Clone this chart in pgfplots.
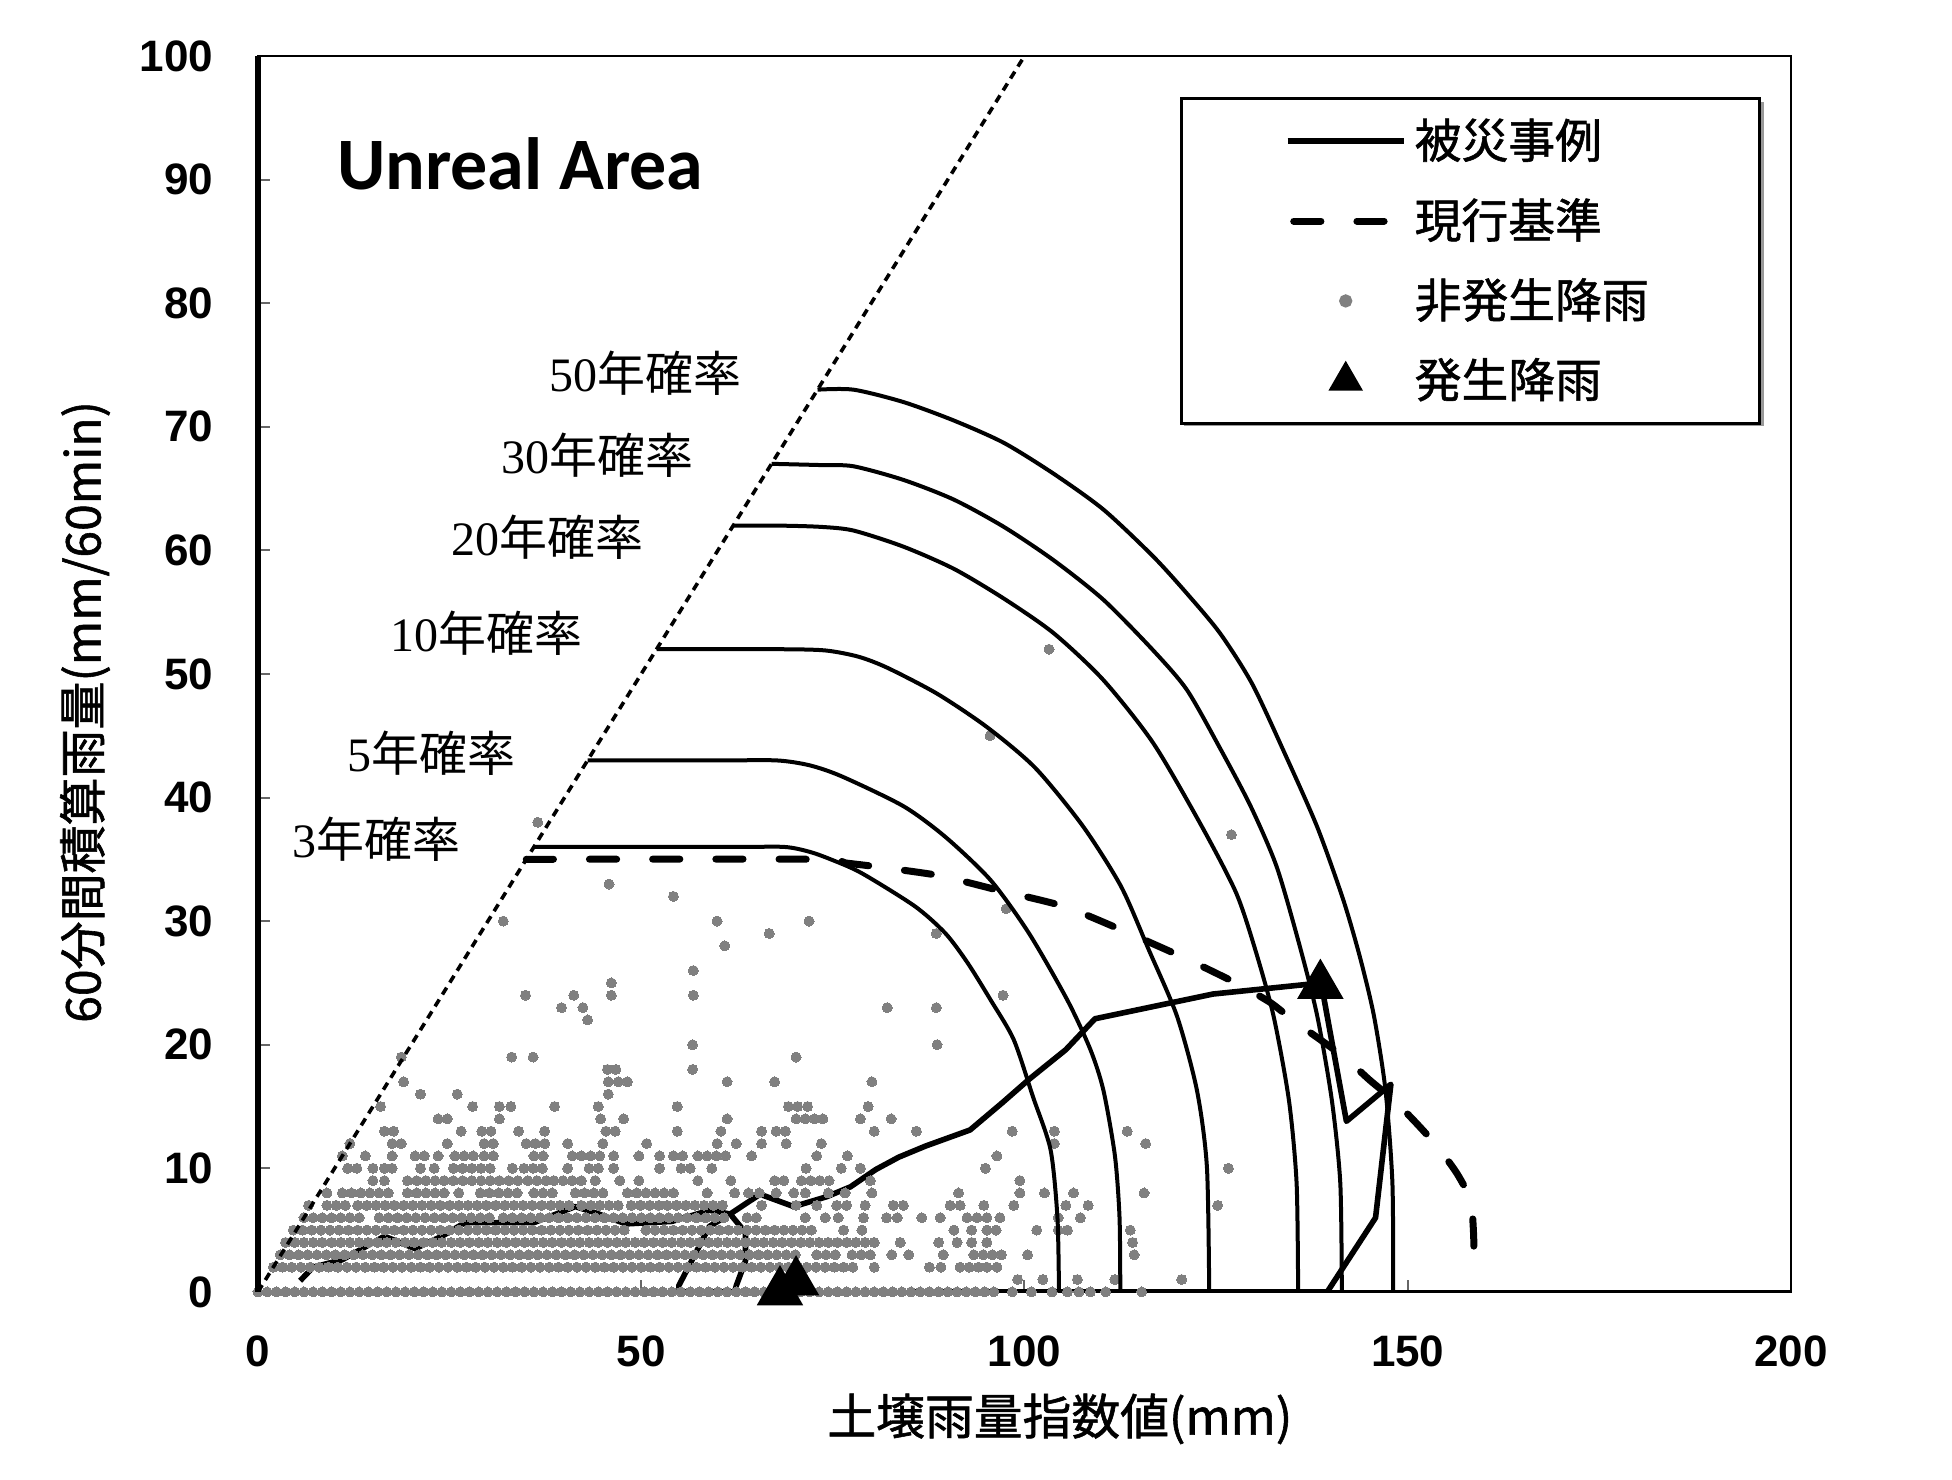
\documentclass[border=0pt]{standalone}
\usepackage{pgfplots}
\pgfplotsset{compat=1.18}
\usepackage{fontspec}
\newfontfamily\jp{Noto Sans CJK JP}
\newfontfamily\jpb{Noto Sans CJK JP}[FakeBold=1.2]
\newfontfamily\tickf{Liberation Sans}
\newfontfamily\ser{Liberation Serif}
\newfontfamily\carl{Carlito}
\definecolor{dotgray}{RGB}{128,128,128}
\newcommand{\tk}[1]{{\tickf\bfseries\fontsize{11}{11}\selectfont #1}}
\newcommand{\yr}[1]{{\fontsize{12}{12}\selectfont{\ser #1}{\jp 年確率}}}
\pgfplotsset{
  markleg/.style={legend image code/.code={\path (0pt,0pt) (29pt,0pt); \draw[##1] plot coordinates {(14.5pt,0pt)};}},
  solidleg/.style={legend image code/.code={\draw[line width=1.5pt] (0pt,0pt) -- (29pt,0pt);}},
  dashleg/.style={legend image code/.code={\path (0pt,0pt) (29pt,0pt); \draw[line width=1.75pt, line cap=round, dash pattern=on 6.8pt off 9pt] (1.5pt,0pt) -- (27pt,0pt);}},
  dots/.style={forget plot, only marks, mark=*, mark size=1.25pt, color=dotgray, mark options={line width=0pt}},
  cont/.style={forget plot, black, line width=1pt, smooth, tension=0.45},
}
\begin{document}
\begin{tikzpicture}
\useasboundingbox (-64.5pt,-47pt) rectangle (423.55pt,323pt);
% legend shadow
\fill[black!40] (231.6pt,216.5pt) rectangle (376.6pt,297.6pt);
\begin{axis}[
  at={(0pt,0pt)}, anchor=south west,
  width=383.3pt, height=309pt, scale only axis,
  xmin=0, xmax=200, ymin=0, ymax=100,
  xtick={0,50,100,150,200},
  xticklabels={\tk{0},\tk{50},\tk{100},\tk{150},\tk{200}},
  ytick={0,10,20,30,40,50,60,70,80,90,100},
  yticklabels={\tk{0},\tk{10},\tk{20},\tk{30},\tk{40},\tk{50},\tk{60},\tk{70},\tk{80},\tk{90},\tk{100}},
  tick align=inside, tick pos=left, major tick length=3pt,
  tick style={black!60, line width=0.5pt},
  xticklabel style={yshift=-7.4pt},
  yticklabel style={xshift=-7.7pt},
  axis line style={line width=0.7pt},
  clip mode=individual,
  legend cell align=left,
  legend style={at={(0.6014,0.9668)}, anchor=north west,
    draw=black, line width=0.8pt, fill=white,
    inner xsep=25.8pt, inner ysep=3pt, row sep=4.6pt,
    font=\jpb\fontsize{11.7}{14}\selectfont},
]
% legend entries
\addlegendimage{solidleg}
\addlegendentry{被災事例}
\addlegendimage{dashleg}
\addlegendentry{現行基準}
\addlegendimage{only marks, mark=*, mark size=1.25pt, color=dotgray, markleg}
\addlegendentry{非発生降雨}
\addlegendimage{only marks, mark=triangle*, mark size=4.2pt, color=black, markleg}
\addlegendentry{発生降雨}

% damage case trajectory
\addplot[forget plot, black, line width=1.4pt, line join=round] coordinates {
(5.5,0.9)(7.2,2.0)(11,2.6)(16.5,4.5)(20.5,3.5)(24,4.5)(27,5.6)(36,5.6)(41.4,6.9)(44,6.4)(48,5.5)(54,5.7)(58.9,6.6)(61.6,6.3)(63.6,4.8)(63.6,2.5)(62.4,0.5)(62.2,0)(55,0)(54.9,0.5)(56.9,2.9)(58.9,5.3)(61.6,6.3)(65.5,7.9)(69.9,6.9)(74.2,7.7)(77.3,8.5)(80.6,9.9)(83.6,10.9)(87.1,11.8)(92.9,13.1)(97.1,15.3)(100.6,17.2)(105.4,19.6)(109.2,22.1)(124.6,24.1)(137.2,24.9)(138.7,25)(142,13.8)(147.8,16.8)(145.8,6.0)(139.5,0)(85,0)};

% non-occurrence rainfall dots
\addplot[dots] coordinates {(0,0)(1.2,0)(2.4,0)(3.6,0)(4.8,0)(6,0)(7.2,0)(8.4,0)(9.6,0)(10.8,0)(12,0)(13.2,0)(14.4,0)(15.6,0)(16.8,0)(18,0)(19.2,0)(20.4,0)(21.6,0)(22.8,0)(24,0)(25.2,0)(26.4,0)(27.6,0)(28.8,0)(30,0)(31.2,0)(32.4,0)(33.6,0)(34.8,0)(36,0)(37.2,0)(38.4,0)(39.6,0)(40.8,0)(42,0)(43.2,0)(44.4,0)(45.6,0)(46.8,0)(48,0)(49.2,0)(50.4,0)(51.6,0)(52.8,0)(54,0)(55.2,0)(56.4,0)(57.6,0)(58.8,0)(60,0)(61.2,0)(62.4,0)(63.6,0)(64.8,0)(66,0)(67.2,0)(68.4,0)(69.6,0)(70.8,0)(72,0)(73.2,0)(74.4,0)(75.6,0)(76.8,0)(78,0)(79.2,0)(80.4,0)(81.6,0)(82.8,0)(84,0)(85.2,0)(86.4,0)(87.6,0)(88.8,0)(90,0)(91.2,0)(92.4,0)(93.6,0)(94.8,0)(96,0)(98.4,0)(100.9,0)(103.6,0)(105.6,0)(107.1,0)(108.6,0)(110.6,0)(115.3,0)};
\addplot[dots] coordinates {(99.1,1)(102.4,1)(106.9,1)(111.8,1)(120.5,1)};
\addplot[dots] coordinates {(2,2)(3.2,2)(4.4,2)(5.6,2)(6.8,2)(8,2)(9.2,2)(10.4,2)(11.6,2)(12.8,2)(14,2)(15.2,2)(16.4,2)(17.6,2)(18.8,2)(20,2)(21.2,2)(22.4,2)(23.6,2)(24.8,2)(26,2)(27.2,2)(28.4,2)(29.6,2)(30.8,2)(32,2)(33.2,2)(34.4,2)(35.6,2)(36.8,2)(38,2)(39.2,2)(40.4,2)(41.6,2)(42.8,2)(44,2)(45.2,2)(46.4,2)(47.6,2)(48.8,2)(50,2)(51.2,2)(52.4,2)(53.6,2)(54.8,2)(56,2)(57.2,2)(58.4,2)(59.6,2)(60.8,2)(62,2)(63.2,2)(64.4,2)(65.6,2)(66.8,2)(68,2)(69.2,2)(70.4,2)(71.6,2)(72.8,2)(74,2)(75.2,2)(76.4,2)(77.6,2)(80.4,2)(87.6,2)(89.1,2)(91.6,2)(92.8,2)(94,2)(95.1,2)(96.4,2)};
\addplot[dots] coordinates {(2.9,3)(4.1,3)(5.3,3)(6.5,3)(7.7,3)(8.9,3)(10.1,3)(11.3,3)(12.5,3)(13.7,3)(14.9,3)(16.1,3)(17.3,3)(18.5,3)(19.7,3)(20.9,3)(22.1,3)(23.3,3)(24.5,3)(25.7,3)(26.9,3)(28.1,3)(29.3,3)(30.5,3)(31.7,3)(32.9,3)(34.1,3)(35.3,3)(36.5,3)(37.7,3)(38.9,3)(40.1,3)(41.3,3)(42.5,3)(43.7,3)(44.9,3)(46.1,3)(47.3,3)(48.5,3)(49.7,3)(50.9,3)(52.1,3)(53.3,3)(54.5,3)(55.7,3)(56.9,3)(58.1,3)(59.3,3)(60.5,3)(61.7,3)(62.9,3)(64.1,3)(65.3,3)(66.5,3)(67.7,3)(68.9,3)(70.1,3)(72.9,3)(74.1,3)(75.3,3)(77.5,3)(78.7,3)(79.9,3)(82.7,3)(84.9,3)(89.4,3)(93.4,3)(94.6,3)(95.8,3)(97,3)(100.4,3)(114.3,3)};
\addplot[dots] coordinates {(3.6,4)(4.8,4)(6,4)(7.2,4)(8.4,4)(9.6,4)(10.8,4)(12,4)(13.2,4)(14.4,4)(15.6,4)(16.8,4)(18,4)(19.2,4)(20.4,4)(21.6,4)(22.8,4)(24,4)(25.2,4)(26.4,4)(27.6,4)(28.8,4)(30,4)(31.2,4)(32.4,4)(33.6,4)(34.8,4)(36,4)(37.2,4)(38.4,4)(39.6,4)(40.8,4)(42,4)(43.2,4)(44.4,4)(45.6,4)(46.8,4)(48,4)(49.2,4)(50.4,4)(51.6,4)(52.8,4)(54,4)(55.2,4)(56.4,4)(57.6,4)(58.8,4)(60,4)(61.2,4)(62.4,4)(63.6,4)(64.8,4)(66,4)(67.2,4)(68.4,4)(69.6,4)(70.8,4)(72,4)(73.2,4)(74.4,4)(75.6,4)(76.8,4)(78,4)(79.2,4)(80.4,4)(83.8,4)(88.8,4)(91.2,4)(93.1,4)(95.1,4)(114.1,4)};
\addplot[dots] coordinates {(4.6,5)(5.8,5)(7,5)(8.2,5)(9.4,5)(10.6,5)(11.8,5)(13,5)(14.2,5)(15.4,5)(16.6,5)(17.8,5)(19,5)(20.2,5)(21.4,5)(22.6,5)(23.8,5)(25,5)(26.2,5)(27.4,5)(28.6,5)(29.8,5)(31,5)(32.2,5)(33.4,5)(34.6,5)(35.8,5)(37,5)(38.2,5)(39.4,5)(40.6,5)(41.8,5)(43,5)(44.2,5)(45.4,5)(46.6,5)(47.8,5)(50.6,5)(51.8,5)(53,5)(54.2,5)(55.4,5)(56.6,5)(57.8,5)(59,5)(60.2,5)(61.4,5)(62.6,5)(63.8,5)(65,5)(66.2,5)(67.4,5)(68.6,5)(69.8,5)(71,5)(72.2,5)(76.4,5)(78.8,5)(90.8,5)(93.1,5)(95.1,5)(96.3,5)(101.6,5)(104.4,5)(105.6,5)(113.8,5)};
\addplot[dots] coordinates {(6,6)(7.2,6)(8.4,6)(9.6,6)(10.8,6)(12,6)(13.2,6)(15.8,6)(17,6)(18.2,6)(19.4,6)(20.6,6)(21.8,6)(23,6)(24.2,6)(25.4,6)(26.6,6)(27.8,6)(29,6)(30.2,6)(32,6)(33.2,6)(34.4,6)(35.6,6)(36.8,6)(38,6)(39.2,6)(40.4,6)(41.6,6)(42.8,6)(44,6)(45.2,6)(46.4,6)(47.6,6)(48.8,6)(50,6)(51.2,6)(52.4,6)(53.6,6)(54.8,6)(56,6)(57.2,6)(58.4,6)(59.6,6)(60.8,6)(63.8,6)(65,6)(71.4,6)(74,6)(75.7,6)(79,6)(82,6)(83.4,6)(86.6,6)(89,6)(92.5,6)(93.8,6)(95.1,6)(96.8,6)(104.4,6)(107.3,6)};
\addplot[dots] coordinates {(6.6,7)(9,7)(10.2,7)(11.4,7)(13,7)(14.2,7)(15.4,7)(16.6,7)(17.8,7)(19,7)(20.2,7)(21.4,7)(22.6,7)(23.8,7)(25,7)(26.2,7)(27.4,7)(28.6,7)(29.8,7)(31,7)(32.2,7)(33.4,7)(34.6,7)(35.8,7)(37,7)(38.2,7)(39.4,7)(40.6,7)(42.2,7)(43.4,7)(44.6,7)(45.8,7)(47,7)(48.7,7)(49.9,7)(51.1,7)(52.3,7)(53.4,7)(54.6,7)(55.8,7)(57,7)(58.2,7)(59.4,7)(60.6,7)(65.7,7)(70.2,7)(72.9,7)(75.5,7)(76.8,7)(79.2,7)(82.9,7)(84.2,7)(90.3,7)(91.6,7)(94.7,7)(98.6,7)(105.4,7)(108.3,7)(125.2,7)};
\addplot[dots] coordinates {(9,8)(11,8)(12.2,8)(13.4,8)(14.6,8)(15.8,8)(17,8)(19.5,8)(20.7,8)(21.9,8)(23.1,8)(24.3,8)(26.2,8)(29,8)(30.2,8)(31.4,8)(32.6,8)(33.8,8)(36,8)(37.2,8)(38.4,8)(41.4,8)(42.6,8)(43.8,8)(45,8)(48.2,8)(49.4,8)(50.6,8)(51.8,8)(53,8)(54.2,8)(58.6,8)(62.2,8)(64,8)(65.4,8)(67.6,8)(69.9,8)(71.4,8)(74.4,8)(76.6,8)(80.1,8)(91.4,8)(99.4,8)(102.6,8)(106.4,8)(115.6,8)};
\addplot[dots] coordinates {(15,9)(16.5,9)(19.5,9)(20.7,9)(21.9,9)(23.1,9)(24.3,9)(25.5,9)(26.7,9)(27.9,9)(29.1,9)(30.3,9)(31.5,9)(32.7,9)(33.9,9)(35.2,9)(36.4,9)(37.6,9)(38.6,9)(39.8,9)(41,9)(42.2,9)(44,9)(47.2,9)(49.7,9)(57.4,9)(61.7,9)(67.4,9)(68.6,9)(70.9,9)(72.1,9)(73.3,9)(74.5,9)(79.9,9)(99.4,9)};
\addplot[dots] coordinates {(11.7,10)(12.9,10)(15,10)(16.5,10)(17.5,10)(21.2,10)(23,10)(25.5,10)(26.7,10)(27.9,10)(29.1,10)(30.3,10)(33.2,10)(34.7,10)(35.9,10)(37.1,10)(40.4,10)(43.2,10)(44.4,10)(46.4,10)(52.4,10)(55.2,10)(56.4,10)(59.2,10)(71.5,10)(76.1,10)(78.6,10)(94.9,10)(126.6,10)};
\addplot[dots] coordinates {(11,11)(14,11)(17.5,11)(20.5,11)(21.7,11)(23.5,11)(25.7,11)(26.9,11)(28.1,11)(29.5,11)(30.7,11)(36,11)(37.2,11)(41,11)(42.2,11)(43.4,11)(44.6,11)(46.4,11)(49.7,11)(52.4,11)(54.2,11)(55.4,11)(57.4,11)(58.6,11)(59.8,11)(61,11)(64.4,11)(72.9,11)(76.9,11)(96.4,11)};
\addplot[dots] coordinates {(12,12)(17.5,12)(18.7,12)(24.7,12)(29.5,12)(30.7,12)(35,12)(36.2,12)(37.4,12)(40.4,12)(45,12)(50.7,12)(59.9,12)(62.4,12)(65.7,12)(68.9,12)(73.5,12)(103.9,12)(115.8,12)};
\addplot[dots] coordinates {(16.5,13)(17.7,13)(26.5,13)(29.2,13)(30.4,13)(34,13)(37.4,13)(45.4,13)(46.6,13)(54.7,13)(60.4,13)(65.7,13)(67.6,13)(68.8,13)(80.4,13)(85.9,13)(98.4,13)(103.9,13)(113.4,13)};
\addplot[dots] coordinates {(23.5,14)(24.7,14)(31.5,14)(44.7,14)(47.7,14)(61.2,14)(70.2,14)(71.4,14)(72.6,14)(73.7,14)(78.6,14)(82.6,14)};
\addplot[dots] coordinates {(16,15)(28,15)(31.5,15)(33,15)(38.7,15)(44.4,15)(54.7,15)(69.2,15)(70.4,15)(71.7,15)(79.6,15)};
\addplot[dots] coordinates {(21.2,16)(26,16)(45.7,16)(19,17)(45.7,17)(47,17)(48.2,17)(61.2,17)(67.4,17)(80.1,17)(45.6,18)(46.7,18)(56.7,18)(18.7,19)(33.1,19)(35.9,19)(70.2,19)};
\addplot[dots] coordinates {(56.7,20)(88.6,20)(43,22)(39.6,23)(42.4,23)(82.1,23)(88.5,23)(34.9,24)(41.2,24)(46.1,24)(56.8,24)(97.2,24)(46.1,25)(56.8,26)(60.9,28)(66.7,29)(88.5,29)(32,30)(59.9,30)(71.9,30)(97.6,31)(54.2,32)(45.8,33)(127,37)(36.5,38)(95.5,45)(103.2,52)};

% probability contour lines
\addplot[cont] coordinates {(36,36)(62,36)(68.7,36)(72,35.6)(74.7,35.0)(78.7,33.9)(85.7,31.2)(89.7,29.0)(92.6,26.6)(95.6,23.6)(98.6,20.4)(101.1,15.8)(103.4,11.5)(104.3,6)(104.5,0)};
\addplot[cont] coordinates {(43,43)(60,43)(67.7,43.0)(72,42.6)(76.2,41.7)(84.2,39.3)(89.7,36.8)(95.6,33.3)(100.6,29.0)(105.6,23.6)(108.6,19.6)(110.3,16.3)(111.8,11)(112.4,6)(112.5,0)};
\addplot[cont] coordinates {(52,52)(68,52)(74,51.9)(78.3,51.4)(82.1,50.5)(88.6,48.4)(95.1,45.7)(101.4,42.4)(107.6,37.7)(112.6,32.8)(116.2,27.7)(119.9,22.3)(122.5,16.3)(123.8,10.1)(124.1,0)};
\addplot[cont] coordinates {(62,62)(68,62)(73.4,61.9)(77.7,61.6)(84.2,60.3)(90.8,58.5)(97.3,56.1)(103.8,53.3)(110.3,49.5)(116.8,44.4)(123.1,37.7)(127.6,32.3)(130.1,27.7)(132.5,22.3)(134.5,15.5)(135.5,8.8)(135.7,0)};
\addplot[cont] coordinates {(67,67)(73.4,66.9)(77.7,66.8)(84.2,65.7)(90.8,64.1)(97.3,61.9)(103.8,59.2)(110.3,56.0)(116.8,51.9)(121.2,48.7)(125.5,44.0)(129.5,39.3)(132.9,34.4)(135.9,28)(138.2,22.3)(140.1,15.5)(141.2,8.8)(141.4,0)};
\addplot[cont] coordinates {(73,73)(77.7,73)(84.2,72.0)(90.8,70.5)(97.3,68.7)(103.8,66.2)(110.3,63.3)(116.8,59.5)(121.2,56.5)(125.5,53.3)(129.7,49.2)(134,43.5)(138.2,37.6)(141.6,31.7)(143.8,27.0)(145.6,22.3)(147.1,16.3)(148,8.8)(148.1,0)};

% current criterion (dashed)
\addplot[forget plot, black, line width=1.75pt, line cap=round, dash pattern=on 6.8pt off 9pt, smooth, tension=0.4] coordinates {(35,35)(72.7,35)(76.7,34.7)(80.7,34.4)(88.7,33.7)(96.6,32.5)(105.1,31.2)(112.6,29.3)(120.6,27.1)(124.3,26.0)(128.2,24.8)(132.1,23.4)(135.2,21.9)(138.6,20.4)(141.9,18.9)(145.1,17.1)(148.2,15.5)(151.2,13.6)(153.8,11.8)(156.4,9.6)(158.2,7.4)(158.6,4.5)(158.6,2.0)};

% unreal boundary
\addplot[forget plot, black, line width=0.9pt, dash pattern=on 2pt off 1.5pt] coordinates {(0,0)(100,100)};

% occurrence rainfall
\addplot[forget plot, only marks, mark=triangle*, mark size=6.3pt, black] coordinates {(68.1,0)(70.2,0.8)(138.6,24.8)};

% texts
\node[anchor=base west, font=\carl\bfseries\fontsize{18.5}{18.5}\selectfont] at (axis cs:8.5,89.2) {Unreal Area};
\node at (axis cs:50.6,74.3) {\yr{50}};
\node at (axis cs:44.3,67.7) {\yr{30}};
\node at (axis cs:37.8,61.1) {\yr{20}};
\node at (axis cs:29.8,53.3) {\yr{10}};
\node at (axis cs:22.7,43.6) {\yr{5}};
\node at (axis cs:15.4,36.6) {\yr{3}};
\end{axis}
\draw[line width=1.4pt] (0pt,0pt) -- (0pt,309pt);
\node[rotate=90, font=\jpb\fontsize{12}{12}\selectfont] at (-43.25pt,145pt) {60分間積算雨量(mm/60min)};
\node[font=\jpb\fontsize{12.2}{12.2}\selectfont] at (200.5pt,-31.75pt) {土壌雨量指数値(mm)};
\end{tikzpicture}
\end{document}
